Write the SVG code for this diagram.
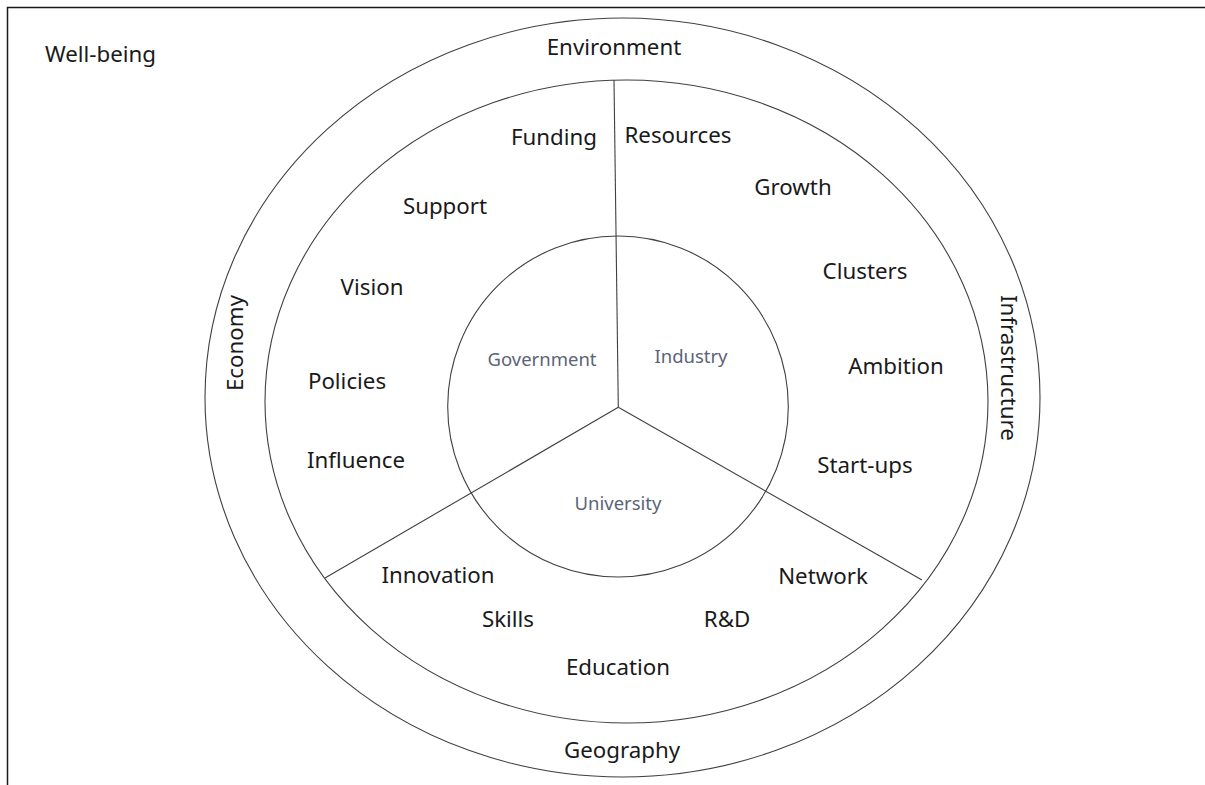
<svg xmlns="http://www.w3.org/2000/svg" width="1205" height="785" viewBox="0 0 1205 785">
<style>
.ln{fill:none;stroke:#404040;stroke-width:1.1}
.t{font-family:"Noto Sans","Open Sans","Liberation Sans",sans-serif;font-size:22.3px;fill:#1a1a1a;text-anchor:middle}
.c{font-family:"Noto Sans","Open Sans","Liberation Sans",sans-serif;font-size:18.5px;fill:#5b6477;text-anchor:middle}
</style>
<rect x="0" y="0" width="1205" height="785" fill="#ffffff"/>
<rect x="7.5" y="7.5" width="1300" height="900" fill="none" stroke="#1a1a1a" stroke-width="1.5"/>
<g id="ring-outer">
<ellipse class="ln" cx="622.5" cy="397.5" rx="417.5" ry="379.5"/>
<text class="t" x="614" y="55">Environment</text>
<text class="t" x="622" y="758">Geography</text>
<text class="t" transform="translate(243,343) rotate(-90)">Economy</text>
<text class="t" transform="translate(1001,368) rotate(90)">Infrastructure</text>
</g>
<g id="ring-middle">
<ellipse class="ln" cx="626.5" cy="401.5" rx="361.5" ry="321.5"/>
</g>
<g id="connectors">
<line class="ln" x1="614" y1="80" x2="618.3" y2="407.3"/>
<line class="ln" x1="618.3" y1="407.3" x2="325" y2="578"/>
<line class="ln" x1="618.3" y1="407.3" x2="922" y2="580"/>
</g>
<g id="core">
<ellipse class="ln" cx="618" cy="406.5" rx="170.3" ry="170.5"/>
</g>
<g id="government">
<text class="c" x="542" y="366">Government</text>
<text class="t" x="554" y="145">Funding</text>
<text class="t" x="445" y="214">Support</text>
<text class="t" x="372" y="295">Vision</text>
<text class="t" x="347" y="389">Policies</text>
<text class="t" x="356" y="468">Influence</text>
</g>
<g id="industry">
<text class="c" x="691" y="363">Industry</text>
<text class="t" x="678" y="143">Resources</text>
<text class="t" x="793" y="195">Growth</text>
<text class="t" x="865" y="279">Clusters</text>
<text class="t" x="896" y="374">Ambition</text>
<text class="t" x="865" y="473">Start-ups</text>
</g>
<g id="university">
<text class="c" x="618" y="510">University</text>
<text class="t" x="438" y="583">Innovation</text>
<text class="t" x="823" y="584">Network</text>
<text class="t" x="508" y="627">Skills</text>
<text class="t" x="727" y="627">R&amp;D</text>
<text class="t" x="618" y="675">Education</text>
</g>
<g id="wellbeing">
<text class="t" x="45" y="62" style="text-anchor:start">Well-being</text>
</g>
</svg>
